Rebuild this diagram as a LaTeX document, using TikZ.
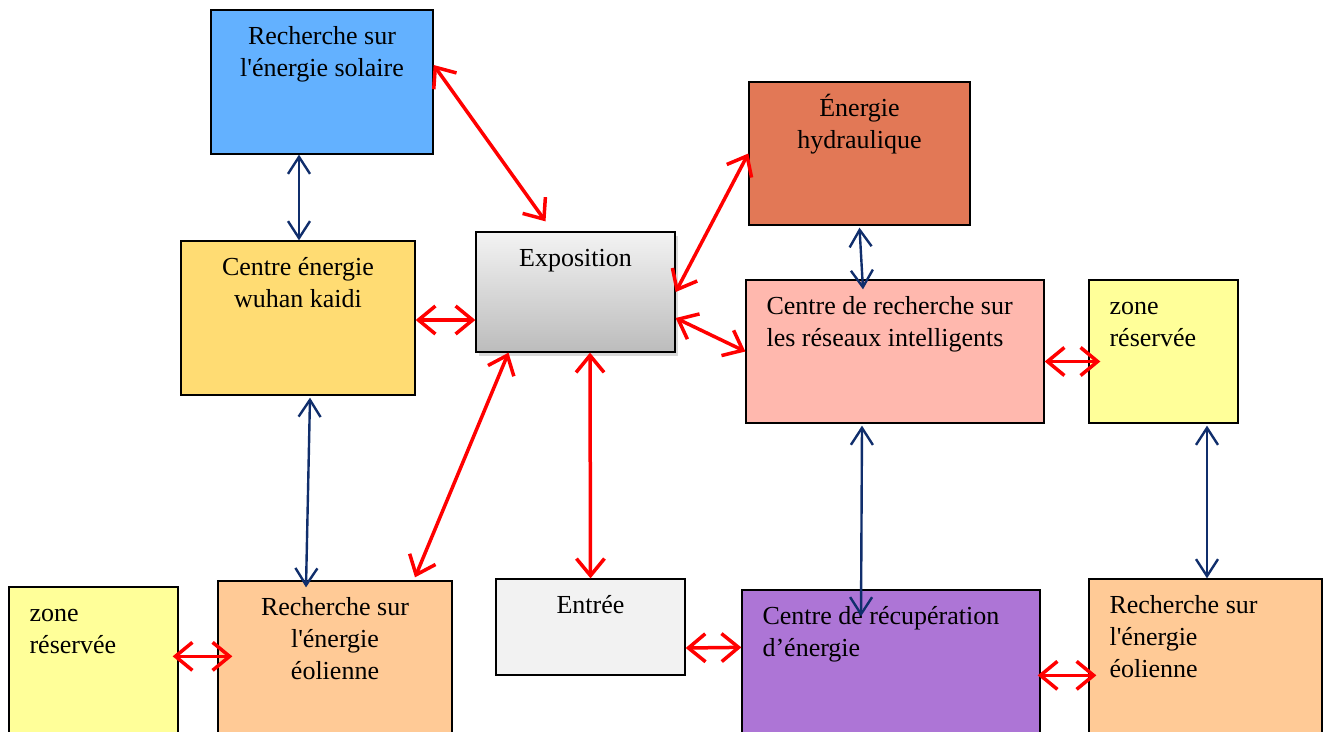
\documentclass[tikz,border=0pt]{standalone}
\usepackage{fontspec}
\setmainfont{Liberation Serif}
\usetikzlibrary{arrows.meta,shadows}

\definecolor{solaire}{RGB}{99,177,255}
\definecolor{kaidi}{RGB}{255,220,115}
\definecolor{hydro}{RGB}{226,120,86}
\definecolor{reseau}{RGB}{255,184,174}
\definecolor{zone}{RGB}{255,255,153}
\definecolor{eolien}{RGB}{255,202,150}
\definecolor{entree}{RGB}{242,242,242}
\definecolor{recup}{RGB}{173,117,214}
\definecolor{expotop}{RGB}{243,243,243}
\definecolor{expobot}{RGB}{188,188,188}
\definecolor{marine}{RGB}{16,46,108}

% texts hang from the top of their box; #1 = number of lines
\tikzset{
  box/.style={draw, rectangle, line width=1.3pt, inner sep=0pt},
  lbl/.style={inner sep=0pt, font=\fontsize{26}{32}\selectfont},
  ctxt/.style={lbl, align=center, anchor=base, yshift={-35pt-32pt*(#1-1)}},
  ctxt/.default=1,
  ltxt/.style={lbl, align=left, anchor=base west, xshift=21pt, yshift={-35pt-32pt*(#1-1)}},
  ltxt/.default=1,
  redlink/.style={red, line width=3.5pt, >={Straight Barb[length=17pt, width=28pt]}, <->},
  navylink/.style={marine, line width=2.4pt, >={Straight Barb[length=17pt, width=22pt]}, <->}
}

\begin{document}
\begin{tikzpicture}[x=1pt, y=-1pt]
  \path[use as bounding box] (0,0) rectangle (1330,731);
  \clip (0,0) rectangle (1330,731);

  % top row
  \node[box, fill=solaire, minimum width=222pt, minimum height=144pt,
        label={[ctxt=2]north:{Recherche sur\\l\textquotesingle énergie solaire}}] (solar) at (322,82) {};
  \node[box, fill=hydro, minimum width=221pt, minimum height=143pt,
        label={[ctxt=2]north:{Énergie\\hydraulique}}] (hydro) at (859.5,153.5) {};

  % middle row
  \node[box, fill=kaidi, minimum width=234pt, minimum height=154pt,
        label={[ctxt=2]north:{Centre énergie\\wuhan kaidi}}] (wuhan) at (298,318) {};
  \node[box, top color=expotop, bottom color=expobot, minimum width=199pt, minimum height=120pt,
        drop shadow={opacity=0.3, shadow xshift=3pt, shadow yshift=-4pt},
        label={[ctxt]north:{Exposition}}] (expo) at (575.5,292) {};
  \node[box, fill=reseau, minimum width=298pt, minimum height=143pt,
        label={[ltxt=2]north west:{Centre de recherche sur\\les réseaux intelligents}}] (reseaux) at (895,351.5) {};
  \node[box, fill=zone, minimum width=149pt, minimum height=143pt,
        label={[ltxt=2]north west:{zone\\réservée}}] (zoneR) at (1163.5,351.5) {};

  % bottom row (runs off the page)
  \node[box, fill=zone, minimum width=169pt, minimum height=173pt,
        label={[ltxt=2]north west:{zone\\réservée}}] (zoneL) at (93.5,673.5) {};
  \node[box, fill=eolien, minimum width=234pt, minimum height=179pt,
        label={[ctxt=3]north:{Recherche sur\\l\textquotesingle énergie\\éolienne}}] (eolL) at (335,670.5) {};
  \node[box, fill=entree, minimum width=189pt, minimum height=96pt,
        label={[ctxt]north:{Entrée}}] (entree) at (590.5,627) {};
  \node[box, fill=recup, minimum width=298pt, minimum height=170pt,
        label={[ltxt=2]north west:{Centre de récupération\\d’énergie}}] (recup) at (891,675) {};
  \node[box, fill=eolien, minimum width=233pt, minimum height=181pt,
        label={[ltxt=3]north west:{Recherche sur\\l\textquotesingle énergie\\éolienne}}] (eolR) at (1205.5,669.5) {};

  % links to the exhibition hall
  \draw[redlink] ([yshift=17pt]solar.east) -- ([xshift=-30pt,yshift=10pt]expo.north);
  \draw[redlink] ([yshift=-2pt]wuhan.east) -- ([yshift=-28pt]expo.west);
  \draw[redlink] ([xshift=-67pt]expo.south) -- ([xshift=80pt,yshift=3pt]eolL.north);
  \draw[redlink] ([xshift=14.5pt]expo.south) -- (entree.north);
  \draw[redlink] (expo.east) -- (hydro.west);
  \draw[redlink] ([yshift=-26pt]expo.east) -- (reseaux.west);

  % side links
  \draw[redlink] ([yshift=-10pt]reseaux.east) -- ([xshift=12pt,yshift=-10pt]zoneR.west);
  \draw[redlink] ([xshift=-6pt,yshift=-70pt]zoneL.north east) -- ([xshift=15pt,yshift=-76pt]eolL.north west);
  \draw[redlink] ([yshift=-21pt]entree.east) -- ([yshift=-58pt]recup.north west);
  \draw[redlink] ([xshift=-3pt,yshift=-86pt]recup.north east) -- ([xshift=8pt,yshift=-97pt]eolR.north west);

  % vertical links between research centres
  \draw[navylink] ([xshift=-23pt]solar.south) -- ([xshift=1pt]wuhan.north);
  \draw[navylink] ([xshift=12pt,yshift=-2pt]wuhan.south) -- ([xshift=-29pt,yshift=-7pt]eolL.north);
  \draw[navylink] ([yshift=-2pt]hydro.south) -- ([xshift=-32pt,yshift=-10pt]reseaux.north);
  \draw[navylink] ([xshift=-33pt,yshift=-2pt]reseaux.south) -- ([xshift=-30pt,yshift=-27pt]recup.north);
  \draw[navylink] ([xshift=43.5pt,yshift=-2pt]zoneR.south) -- ([xshift=1.5pt]eolR.north);
\end{tikzpicture}
\end{document}
